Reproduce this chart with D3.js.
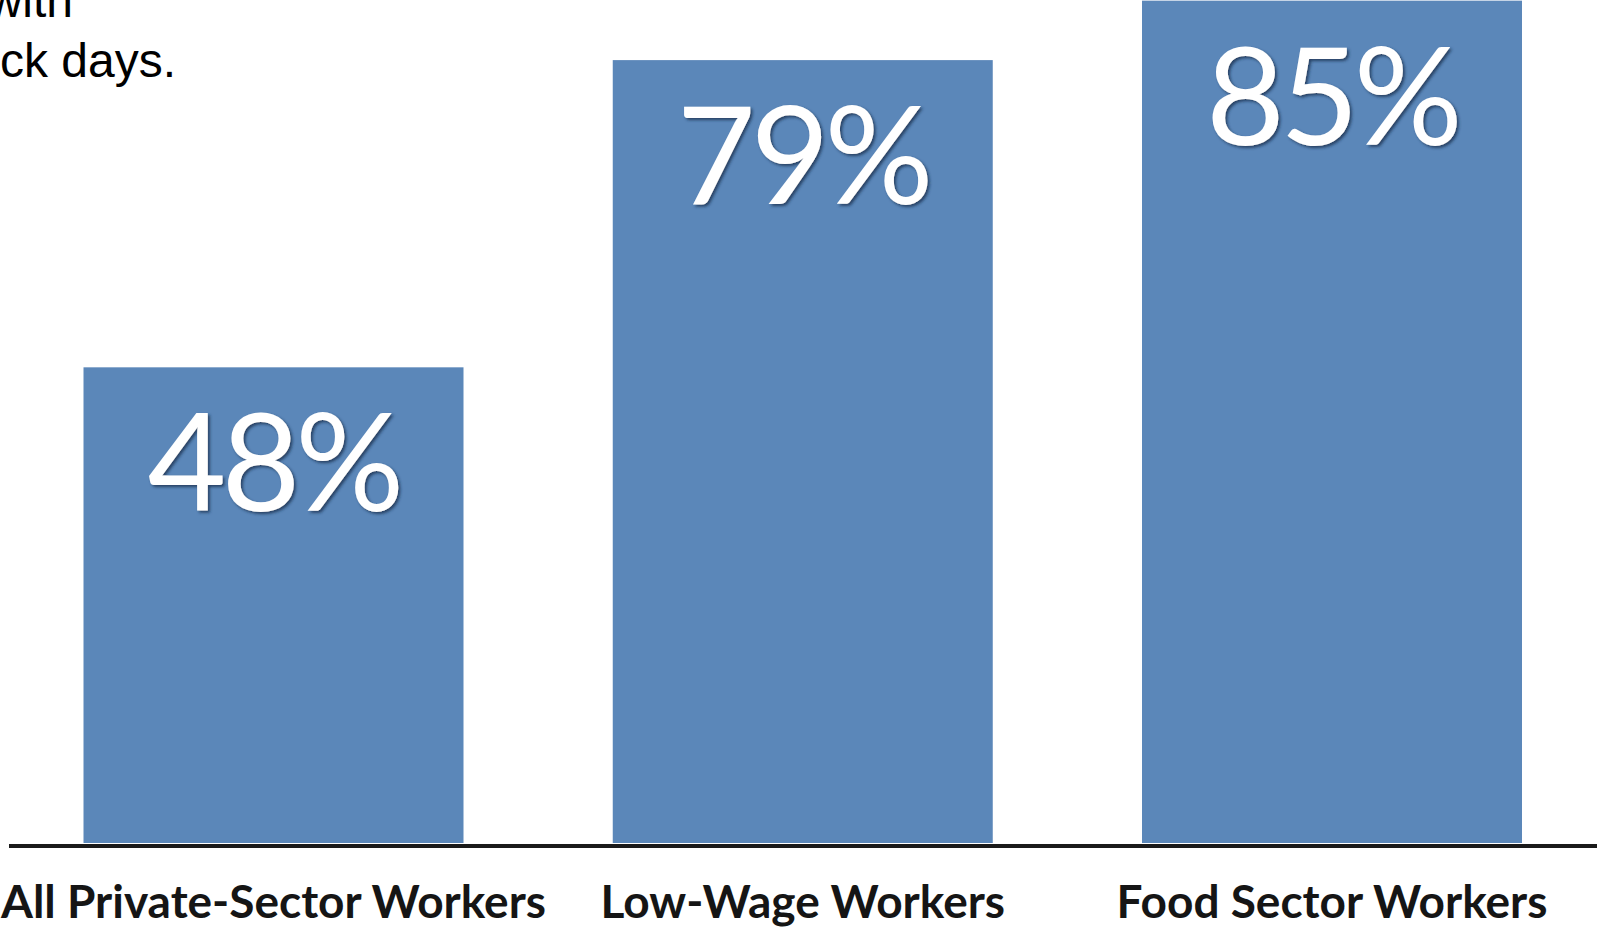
<!DOCTYPE html>
<html>
<head>
<meta charset="utf-8">
<script src="https://cdnjs.cloudflare.com/ajax/libs/d3/7.8.5/d3.min.js"></script>
<style>
  body { margin: 0; background: #fff; overflow: hidden; }
  .cat-label { font-family: Lato, "Open Sans", sans-serif; font-weight: 700; fill: #151515; }
  .val-label { font-family: Lato, "Open Sans", sans-serif; fill: #fff; letter-spacing: -5px; }
  .title-frag { font-family: "Liberation Sans", Arial, sans-serif; fill: #000; }
</style>
</head>
<body>
<div class="chart"></div>
<script>
// data
var categories = ["All Private-Sector Workers", "Low-Wage Workers", "Food Sector Workers"];
var values = [48, 79, 85];
var valueLabels = ["48%", "79%", "85%"];
// title is cut off at the top left of the picture, only these pieces show
var titleLines = ["with", "ck days."];

var svgWidth = 1597;
var svgHeight = 929;

var svg = d3.select(".chart")
  .append("svg")
  .attr("width", svgWidth)
  .attr("height", svgHeight);

// drop shadow for the white numbers
var defs = svg.append("defs");
defs.append("filter")
  .attr("id", "shadow")
  .attr("x", "-10%").attr("y", "-10%")
  .attr("width", "130%").attr("height", "130%")
  .append("feDropShadow")
  .attr("dx", 2).attr("dy", 2)
  .attr("stdDeviation", 1.8)
  .attr("flood-color", "#1d3350")
  .attr("flood-opacity", 0.8);

// scales
var xScale = d3.scaleBand()
  .domain(categories)
  .range([83.5, 1522])
  .paddingInner(0.282)
  .paddingOuter(0);

var yScale = d3.scaleLinear()
  .domain([0, 100])
  .range([843, -148]);

var data = categories.map(function(c, i) {
  return { cat: c, value: values[i], label: valueLabels[i] };
});

// bars
svg.selectAll("rect.bar")
  .data(data)
  .enter()
  .append("rect")
  .attr("class", "bar")
  .attr("x", function(d) { return xScale(d.cat); })
  .attr("y", function(d) { return yScale(d.value); })
  .attr("width", xScale.bandwidth())
  .attr("height", function(d) { return yScale(0) - yScale(d.value); })
  .attr("fill", "#5b87b9");

// value labels inside the bars
svg.selectAll("text.val-label")
  .data(data)
  .enter()
  .append("text")
  .attr("class", "val-label")
  .attr("x", function(d) { return xScale(d.cat) + xScale.bandwidth() / 2; })
  .attr("y", function(d) { return yScale(d.value) + 144; })
  .attr("text-anchor", "middle")
  .attr("font-size", 136)
  .attr("filter", "url(#shadow)")
  .text(function(d) { return d.label; });

// baseline
var bottomAxis = d3.axisBottom(xScale).tickSize(0).tickPadding(0);
var axisG = svg.append("g")
  .attr("transform", "translate(0," + 846 + ")")
  .call(bottomAxis);
axisG.select(".domain").remove();
axisG.selectAll("text").remove();
axisG.append("line")
  .attr("x1", 9).attr("x2", svgWidth)
  .attr("y1", 0).attr("y2", 0)
  .attr("stroke", "#1a1a1a")
  .attr("stroke-width", 4);

// category labels
axisG.selectAll(".tick")
  .append("text")
  .attr("class", "cat-label")
  .attr("x", 0)
  .attr("y", 72)
  .attr("text-anchor", "middle")
  .attr("font-size", 46)
  .text(function(d) { return d; });

// title fragments
svg.selectAll("text.title-frag")
  .data(titleLines)
  .enter()
  .append("text")
  .attr("class", "title-frag")
  .attr("x", function(d, i) { return i === 0 ? 73 : 176; })
  .attr("y", function(d, i) { return 17 + i * 60; })
  .attr("text-anchor", "end")
  .attr("font-size", 48)
  .text(function(d) { return d; });
</script>
</body>
</html>
